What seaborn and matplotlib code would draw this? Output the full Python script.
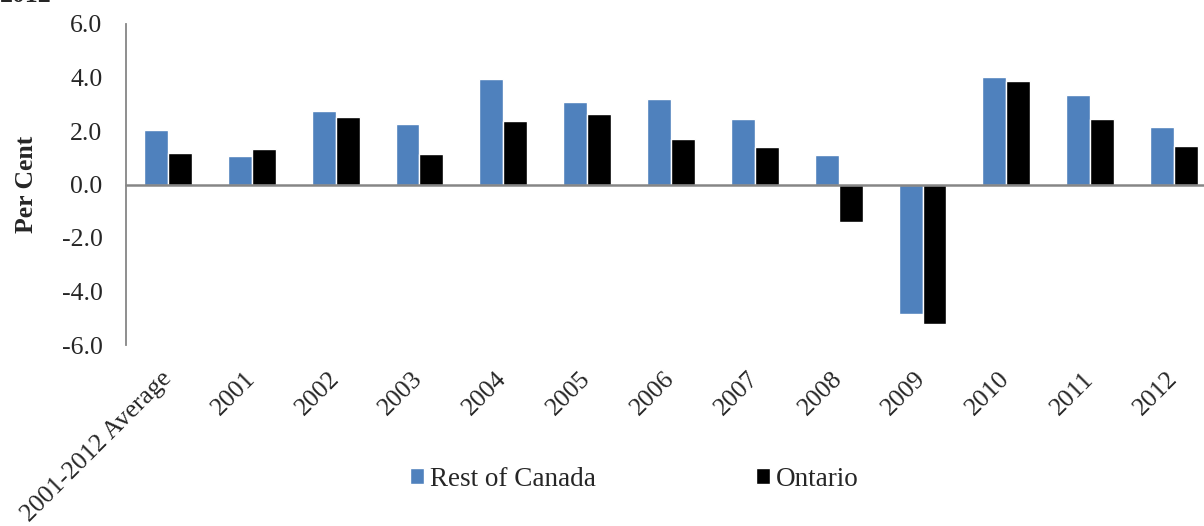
import pandas as pd
import matplotlib.pyplot as plt
import seaborn as sns

# === data ===
categories = ["2001-2012 Average", "2001", "2002", "2003", "2004", "2005", "2006",
              "2007", "2008", "2009", "2010", "2011", "2012"]
rest_of_canada = [2.04, 1.08, 2.76, 2.26, 3.96, 3.08, 3.21, 2.44, 1.11, -4.85, 4.03, 3.34, 2.15]
ontario = [1.18, 1.32, 2.51, 1.13, 2.36, 2.64, 1.70, 1.41, -1.41, -5.22, 3.87, 2.43, 1.45]
series = ["Rest of Canada", "Ontario"]
yticks = [-6.0, -4.0, -2.0, 0.0, 2.0, 4.0, 6.0]

df = pd.DataFrame({
    "category": categories * 2,
    "value": rest_of_canada + ontario,
    "region": [series[0]] * len(categories) + [series[1]] * len(categories),
})

# === style ===
sns.set_style("white")
plt.rcParams["font.family"] = ["Liberation Serif", "DejaVu Serif"]
fs = 18.5
gray = "#868686"

fig = plt.figure(figsize=(12.04, 5.26), dpi=100)
ax = fig.add_axes([126 / 1204, 1 - 345 / 526, 1090 / 1204, 321 / 526])

sns.barplot(data=df, x="category", y="value", hue="region", order=categories,
            hue_order=series, palette=["#4F81BD", "#000000"], saturation=1,
            width=0.57, gap=0, ax=ax, legend=True)

ax.set_xlim(-0.5, len(categories) - 0.5)
ax.set_ylim(-6, 6)
ax.set_yticks(yticks)
ax.set_yticklabels([f"{v:.1f}" for v in yticks], fontsize=fs)
ax.set_xticks(range(len(categories)))
ax.set_xticklabels(categories, fontsize=fs, rotation=45, ha="right", va="center",
                   rotation_mode="anchor")
ax.tick_params(axis="x", length=0, pad=22)
ax.tick_params(axis="y", length=0, pad=17)
ax.set_xlabel("")
ax.set_ylabel("Per Cent", fontsize=fs, fontweight="bold", labelpad=17)

for side in ["top", "right", "bottom"]:
    ax.spines[side].set_visible(False)
ax.spines["left"].set_color(gray)
ax.spines["left"].set_linewidth(1.3)
ax.axhline(0, color=gray, linewidth=1.8, zorder=3, clip_on=False)

# legend at bottom
handles, labels = ax.get_legend_handles_labels()
ax.get_legend().remove()
fig.legend(handles, labels, loc="center", bbox_to_anchor=(0.527, 1 - 479 / 526),
           ncol=2, frameon=False, fontsize=19.5, handlelength=0.5, handleheight=0.5,
           handletextpad=0.25, columnspacing=5.9)

# cut-off title remnant at the very top
fig.text(0.0, 1 - 2 / 526, "2012", fontsize=fs, fontweight="bold", va="baseline", ha="left")

fig.savefig("out.png", dpi=100)
